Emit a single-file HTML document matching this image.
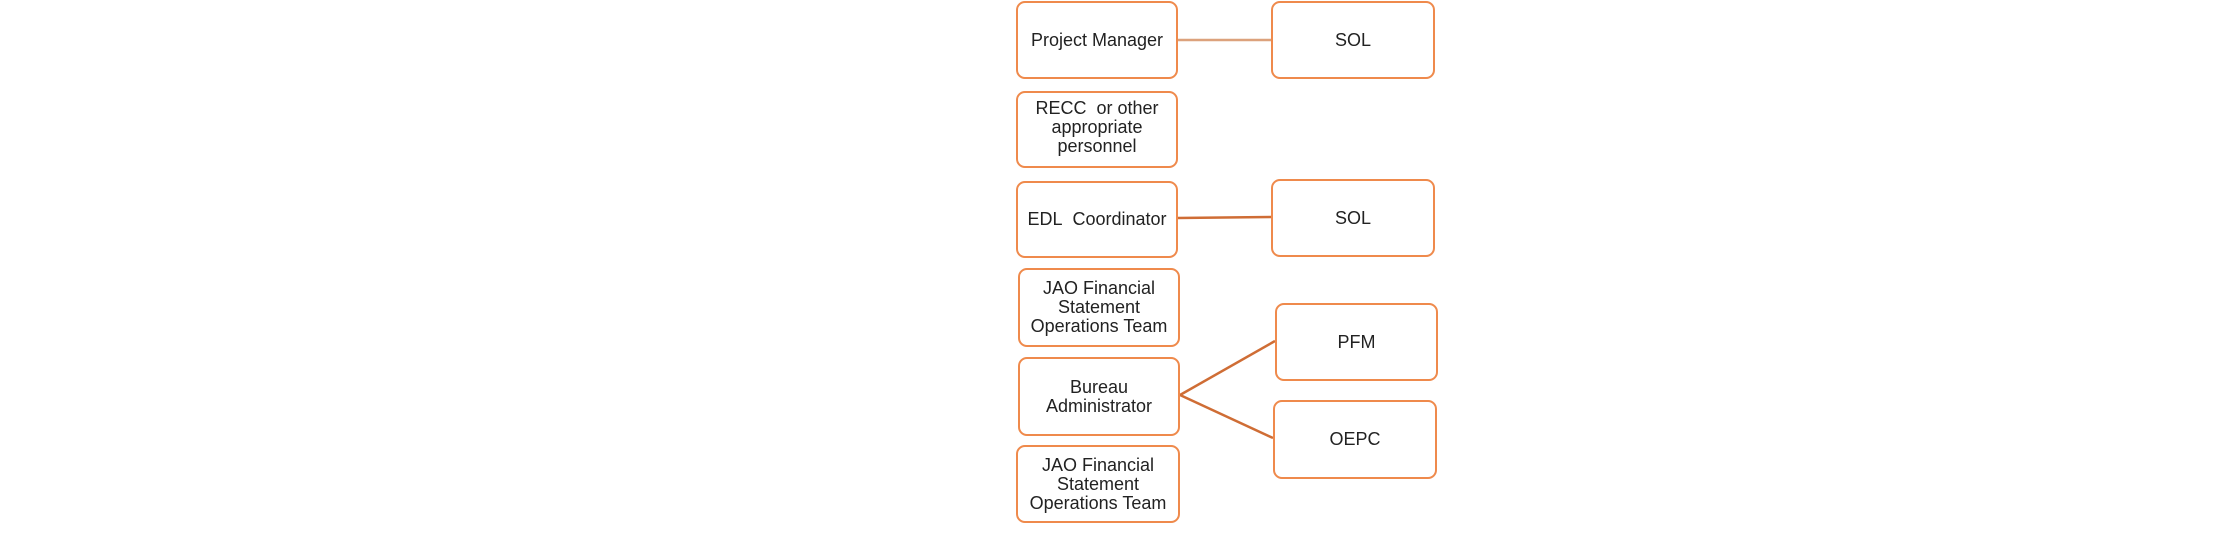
<!DOCTYPE html>
<html><head><style>
body{margin:0;width:2228px;height:548px;background:#fff;position:relative;overflow:hidden;font-family:"Liberation Sans",Arial,sans-serif;}
.b{position:absolute;box-sizing:border-box;border:2px solid #ef8a4c;border-radius:9px;display:flex;align-items:center;justify-content:center;text-align:center;font-size:18px;line-height:19px;color:#222;white-space:nowrap;}
svg{position:absolute;left:0;top:0}
</style></head><body>
<svg width="2228" height="548">
<line x1="1177" y1="40" x2="1271" y2="40" stroke="#dca27c" stroke-width="2.5"/>
<line x1="1177" y1="218" x2="1271" y2="217" stroke="#cf6d35" stroke-width="2.5"/>
<line x1="1180" y1="395" x2="1275" y2="341" stroke="#cf6d35" stroke-width="2.5"/>
<line x1="1180" y1="395" x2="1273" y2="438" stroke="#cf6d35" stroke-width="2.5"/>
</svg>
<div class="b" style="left:1016px;top:1px;width:162px;height:78px">Project Manager</div>
<div class="b" style="left:1271px;top:1px;width:164px;height:78px">SOL</div>
<div class="b" style="left:1016px;top:91px;width:162px;height:77px;padding-bottom:4px">RECC&nbsp; or other<br>appropriate<br>personnel</div>
<div class="b" style="left:1016px;top:181px;width:162px;height:77px">EDL&nbsp; Coordinator</div>
<div class="b" style="left:1271px;top:179px;width:164px;height:78px">SOL</div>
<div class="b" style="left:1018px;top:268px;width:162px;height:79px">JAO Financial<br>Statement<br>Operations Team</div>
<div class="b" style="left:1018px;top:357px;width:162px;height:79px">Bureau<br>Administrator</div>
<div class="b" style="left:1016px;top:445px;width:164px;height:78px">JAO Financial<br>Statement<br>Operations Team</div>
<div class="b" style="left:1275px;top:303px;width:163px;height:78px">PFM</div>
<div class="b" style="left:1273px;top:400px;width:164px;height:79px">OEPC</div>
</body></html>
